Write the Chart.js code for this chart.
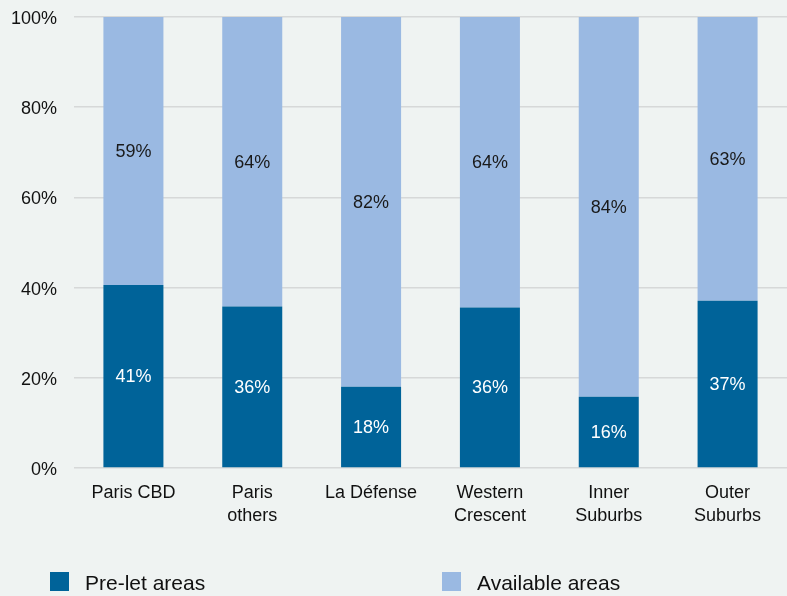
<!DOCTYPE html>
<html lang="en">
<head>
  <meta charset="UTF-8" />
  <title>Pre-let vs available areas</title>
  <script src="https://cdn.jsdelivr.net/npm/chart.js"></script>
  <style>
    html, body { margin: 0; padding: 0; background: #eff3f2; }
    #wrap { width: 787px; height: 596px; position: relative; }
  </style>
</head>
<body>
  <div id="wrap"><canvas id="chart"></canvas></div>

  <script>
    // data
    const categories = ['Paris CBD', ['Paris', 'others'], 'La Défense', ['Western', 'Crescent'], ['Inner', 'Suburbs'], ['Outer', 'Suburbs']];
    const preLet = [40.6, 35.8, 18.0, 35.6, 15.8, 37.1];
    const available = [59.4, 64.2, 82.0, 64.4, 84.2, 62.9];
    const yTicks = [0, 20, 40, 60, 80, 100];

    const FONT = "'Liberation Sans', Arial, sans-serif";

    // value labels in the middle of each segment
    const segmentLabels = {
      id: 'segmentLabels',
      afterDatasetsDraw(chart) {
        const ctx = chart.ctx;
        ctx.save();
        ctx.font = '18px ' + FONT;
        ctx.textAlign = 'center';
        ctx.textBaseline = 'middle';
        chart.data.datasets.forEach((ds, i) => {
          const meta = chart.getDatasetMeta(i);
          ctx.fillStyle = i === 0 ? '#ffffff' : '#1a1a1a';
          meta.data.forEach((bar, j) => {
            const p = bar.getProps(['x', 'y', 'base'], true);
            ctx.fillText(Math.round(ds.data[j]) + '%', p.x, (p.y + p.base) / 2 + 1);
          });
        });
        ctx.restore();
      }
    };

    // legend at the bottom, laid out like the original
    const bottomLegend = {
      id: 'bottomLegend',
      afterDraw(chart) {
        const ctx = chart.ctx;
        const xs = [50, 442];
        const y = chart.height - 14;
        ctx.save();
        ctx.font = '21px ' + FONT;
        ctx.textBaseline = 'middle';
        chart.data.datasets.forEach((ds, i) => {
          ctx.fillStyle = ds.backgroundColor;
          ctx.fillRect(xs[i], y - 10, 19, 19);
          ctx.fillStyle = '#111111';
          ctx.fillText(ds.label, xs[i] + 35, y + 2);
        });
        ctx.restore();
      }
    };

    new Chart(document.getElementById('chart'), {
      type: 'bar',
      data: {
        labels: categories,
        datasets: [{
          label: 'Pre-let areas',
          data: preLet,
          backgroundColor: '#006399',
          barPercentage: 0.505,
          categoryPercentage: 1
        }, {
          label: 'Available areas',
          data: available,
          backgroundColor: '#9ab9e2',
          barPercentage: 0.505,
          categoryPercentage: 1
        }]
      },
      options: {
        responsive: true,
        maintainAspectRatio: false,
        animation: false,
        layout: { padding: { top: 17, right: 0, bottom: 0, left: 0 } },
        plugins: {
          legend: { display: false },
          tooltip: { enabled: false }
        },
        scales: {
          x: {
            stacked: true,
            grid: { display: false },
            border: { display: false },
            ticks: { color: '#111111', font: { family: FONT, size: 18, lineHeight: 1.25 }, padding: 6, maxRotation: 0 },
            afterFit(scale) {
              scale.height = 128;
              scale.paddingLeft = 0;
              scale.paddingRight = 0;
            }
          },
          y: {
            stacked: true,
            min: 0,
            max: 100,
            afterBuildTicks(scale) { scale.ticks = yTicks.map(v => ({ value: v })); },
            grid: { color: '#d6d8d8', lineWidth: 1.5, drawTicks: false },
            border: { display: false },
            ticks: {
              color: '#111111',
              font: { family: FONT, size: 18 },
              padding: 17,
              labelOffset: 2,
              callback: v => v + '%'
            },
            afterFit(scale) {
              scale.width = 74;
              scale.paddingTop = 0;
              scale.paddingBottom = 0;
            }
          }
        }
      },
      plugins: [segmentLabels, bottomLegend]
    });
  </script>
</body>
</html>
